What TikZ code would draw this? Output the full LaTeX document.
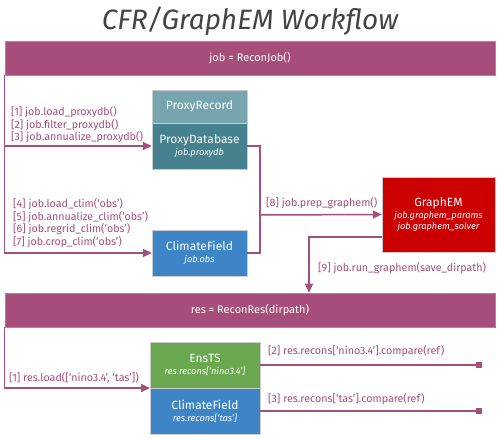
\documentclass[tikz,border=0pt]{standalone}
\usepackage{fontspec}
\setmainfont{Fira Sans}
\usetikzlibrary{arrows.meta}
\definecolor{mag}{HTML}{A64D79}
\definecolor{magb}{HTML}{C27BA0}
\definecolor{titlec}{HTML}{434343}
\definecolor{tealL}{HTML}{76A5AF}
\definecolor{tealD}{HTML}{45818E}
\definecolor{blueC}{HTML}{3D85C6}
\definecolor{redC}{HTML}{CC0000}
\definecolor{greenC}{HTML}{6AA84F}
\newcommand{\subtx}{\fontsize{9.2}{11}\selectfont\itshape}
\tikzset{
  bar/.style={fill=mag, draw=magb, line width=0.6pt, minimum width=490pt, minimum height=34pt, inner sep=0pt, text=white, font=\fontsize{11}{13}\selectfont},
  cbox/.style={draw=white!80!black, line width=0.4pt, minimum width=95pt, inner sep=0pt, text=white, align=center, font=\fontsize{12}{14}\selectfont},
  conn/.style={draw=mag, line width=1.5pt},
  arr/.style={conn, -{Triangle[length=9pt,width=8pt]}},
  sqr/.style={conn, -{Square[length=6pt,width=6pt]}},
  lbl/.style={text=mag, anchor=west, align=left, inner sep=0pt, font=\fontsize{10.7}{12.6}\selectfont}
}
\begin{document}
\begin{tikzpicture}[x=1pt,y=-1pt]
\useasboundingbox (0,0) rectangle (500,439);
\node[text=titlec, font=\fontsize{28}{32}\selectfont\itshape] (title) at (250,21) {CFR/GraphEM Workflow};

\node[bar] (jobbar) at (250,58) {job = ReconJob()};
\node[cbox, fill=tealL, minimum height=33pt] (proxyrec) at (199.5,106.5) {ProxyRecord};
\node[cbox, fill=tealD, minimum height=46pt] (proxydb) at (199.5,146) {ProxyDatabase\\[-2pt]{\subtx job.proxydb}};
\node[cbox, fill=blueC, minimum height=46pt] (climobs) at (199.5,253) {ClimateField\\[-2pt]{\subtx job.obs}};
\node[cbox, fill=redC, minimum width=113pt, minimum height=75pt] (graphem) at (438.5,214.5) {GraphEM\\[-2pt]{\subtx job.graphem\_params}\\[-3pt]{\subtx job.graphem\_solver}};

\node[bar] (resbar) at (250,310) {res = ReconRes(dirpath)};
\node[cbox, fill=greenC, minimum width=110pt, minimum height=46pt] (ensts) at (205,365) {EnsTS\\[-2pt]{\subtx res.recons[‘nino3.4’]}};
\node[cbox, fill=blueC, minimum width=110pt, minimum height=46pt] (climres) at (205,411) {ClimateField\\[-2pt]{\subtx res.recons[‘tas’]}};

% job connectors
\draw[arr] (jobbar.south west) |- (climobs.west);
\draw[arr] (jobbar.south west |- proxydb.west) -- (proxydb.west);
\coordinate (jn) at (260,215);
\draw[conn] (proxydb.east) -| (jn) |- (climobs.east);
\draw[arr] (jn) -- (graphem.west);
\coordinate (gl) at (382,237);
\draw[arr] (gl) -| (resbar.north -| 309,0);

% res connectors
\coordinate (ein) at (150,388);
\draw[arr] (resbar.south west) |- (ein);
\coordinate (e2) at (482,365);
\coordinate (e3) at (482,411);
\draw[sqr] (ensts.east) -- (e2);
\draw[sqr] (climres.east) -- (e3);

% labels
\node[lbl] (l13) at (11,125) {[1] job.load\_proxydb()\\{}[2] job.filter\_proxydb()\\{}[3] job.annualize\_proxydb()};
\node[lbl] (l47) at (13,223) {[4] job.load\_clim(‘obs’)\\{}[5] job.annualize\_clim(‘obs’)\\{}[6] job.regrid\_clim(‘obs’)\\{}[7] job.crop\_clim(‘obs’)};
\node[lbl] (l8) at (266,203) {[8] job.prep\_graphem()};
\node[lbl] (l9) at (318,268) {[9] job.run\_graphem(save\_dirpath)};
\node[lbl] (r1) at (9,378) {[1] res.load([‘nino3.4’, ‘tas’])};
\node[lbl] (r2) at (268,351) {[2] res.recons[‘nino3.4’].compare(ref)};
\node[lbl] (r3) at (268,399) {[3] res.recons[‘tas’].compare(ref)};
\end{tikzpicture}
\end{document}
